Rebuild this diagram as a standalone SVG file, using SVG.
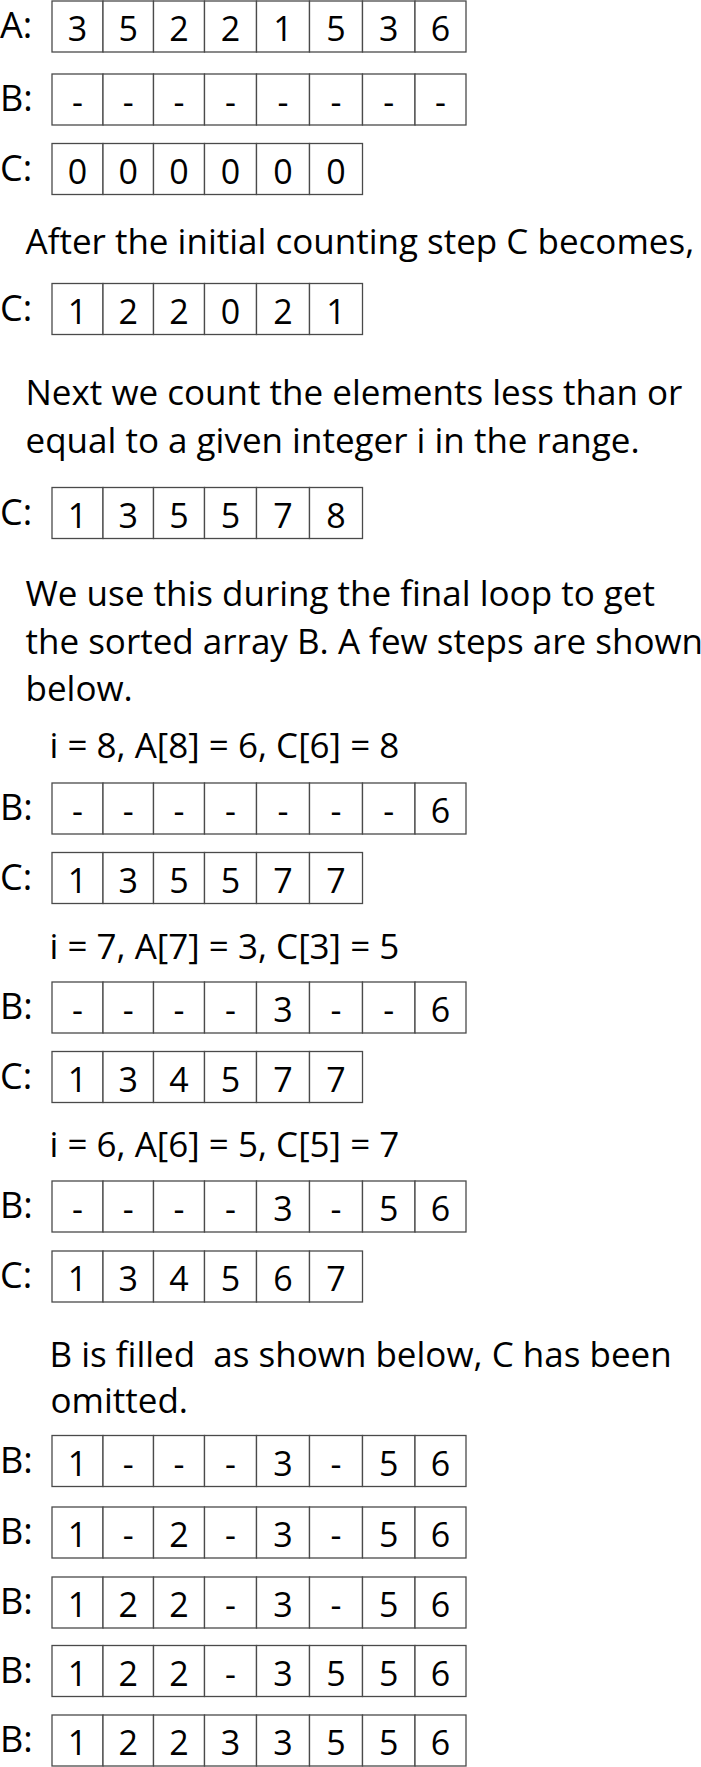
<svg xmlns="http://www.w3.org/2000/svg" width="701" height="1767" viewBox="0 0 701 1767">
<style>
  .cell{fill:#fff;stroke:#4a4a4a;stroke-width:1.3}
  .lbl{font-family:"Open Sans","Noto Sans",sans-serif;font-size:36px;fill:#000}
  .d{font-family:"Open Sans","Noto Sans",sans-serif;font-size:34px;fill:#000;text-anchor:middle}
  .t{font-family:"Open Sans","Noto Sans",sans-serif;font-size:35px;fill:#000}
</style>
<rect width="701" height="1767" fill="#fff"/>
<defs>
  <g id="cells8">
    <rect class="cell" x="52" y="0" width="51" height="51"/>
    <rect class="cell" x="103" y="0" width="50.5" height="51"/>
    <rect class="cell" x="153.5" y="0" width="51" height="51"/>
    <rect class="cell" x="204.5" y="0" width="52" height="51"/>
    <rect class="cell" x="256.5" y="0" width="53" height="51"/>
    <rect class="cell" x="309.5" y="0" width="53" height="51"/>
    <rect class="cell" x="362.5" y="0" width="52.5" height="51"/>
    <rect class="cell" x="415" y="0" width="51" height="51"/>
  </g>
  <g id="cells6">
    <rect class="cell" x="52" y="0" width="51" height="51"/>
    <rect class="cell" x="103" y="0" width="50.5" height="51"/>
    <rect class="cell" x="153.5" y="0" width="51" height="51"/>
    <rect class="cell" x="204.5" y="0" width="52" height="51"/>
    <rect class="cell" x="256.5" y="0" width="53" height="51"/>
    <rect class="cell" x="309.5" y="0" width="53" height="51"/>
  </g>
</defs>

<g id="row-A-initial" transform="translate(0,1)">
  <use href="#cells8"/>
  <text class="lbl" x="0" y="37">A:</text>
  <text class="d" x="77.5" y="40">3</text><text class="d" x="128.2" y="40">5</text><text class="d" x="179" y="40">2</text><text class="d" x="230.5" y="40">2</text><text class="d" x="283" y="40">1</text><text class="d" x="336" y="40">5</text><text class="d" x="388.7" y="40">3</text><text class="d" x="440.5" y="40">6</text>
</g>

<g id="row-B-initial" transform="translate(0,74)">
  <use href="#cells8"/>
  <text class="lbl" x="0" y="37">B:</text>
  <text class="d" x="77.5" y="40">-</text><text class="d" x="128.2" y="40">-</text><text class="d" x="179" y="40">-</text><text class="d" x="230.5" y="40">-</text><text class="d" x="283" y="40">-</text><text class="d" x="336" y="40">-</text><text class="d" x="388.7" y="40">-</text><text class="d" x="440.5" y="40">-</text>
</g>

<g id="row-C-initial" transform="translate(0,143.5)">
  <use href="#cells6"/>
  <text class="lbl" x="0" y="37">C:</text>
  <text class="d" x="77.5" y="40">0</text><text class="d" x="128.2" y="40">0</text><text class="d" x="179" y="40">0</text><text class="d" x="230.5" y="40">0</text><text class="d" x="283" y="40">0</text><text class="d" x="336" y="40">0</text>
</g>

<g id="text-after"><text class="t" x="25.5" y="253.5">After the initial counting step C becomes,</text></g>

<g id="row-C-counted" transform="translate(0,283.5)">
  <use href="#cells6"/>
  <text class="lbl" x="0" y="37">C:</text>
  <text class="d" x="77.5" y="40">1</text><text class="d" x="128.2" y="40">2</text><text class="d" x="179" y="40">2</text><text class="d" x="230.5" y="40">0</text><text class="d" x="283" y="40">2</text><text class="d" x="336" y="40">1</text>
</g>

<g id="text-next">
  <text class="t" x="25.5" y="405">Next we count the elements less than or</text>
  <text class="t" x="25.5" y="453">equal to a given integer i in the range.</text>
</g>

<g id="row-C-cumulative" transform="translate(0,487.5)">
  <use href="#cells6"/>
  <text class="lbl" x="0" y="37">C:</text>
  <text class="d" x="77.5" y="40">1</text><text class="d" x="128.2" y="40">3</text><text class="d" x="179" y="40">5</text><text class="d" x="230.5" y="40">5</text><text class="d" x="283" y="40">7</text><text class="d" x="336" y="40">8</text>
</g>

<g id="text-weuse">
  <text class="t" x="25.5" y="606">We use this during the final loop to get</text>
  <text class="t" x="25.5" y="653.5">the sorted array B. A few steps are shown</text>
  <text class="t" x="25.5" y="700.5">below.</text>
</g>

<g id="text-i8"><text class="t" x="49.5" y="758.3">i = 8, A[8] = 6, C[6] = 8</text></g>
<g id="row-B-i8" transform="translate(0,783)">
  <use href="#cells8"/>
  <text class="lbl" x="0" y="37">B:</text>
  <text class="d" x="77.5" y="40">-</text><text class="d" x="128.2" y="40">-</text><text class="d" x="179" y="40">-</text><text class="d" x="230.5" y="40">-</text><text class="d" x="283" y="40">-</text><text class="d" x="336" y="40">-</text><text class="d" x="388.7" y="40">-</text><text class="d" x="440.5" y="40">6</text>
</g>
<g id="row-C-i8" transform="translate(0,852.5)">
  <use href="#cells6"/>
  <text class="lbl" x="0" y="37">C:</text>
  <text class="d" x="77.5" y="40">1</text><text class="d" x="128.2" y="40">3</text><text class="d" x="179" y="40">5</text><text class="d" x="230.5" y="40">5</text><text class="d" x="283" y="40">7</text><text class="d" x="336" y="40">7</text>
</g>

<g id="text-i7"><text class="t" x="49.5" y="959.3">i = 7, A[7] = 3, C[3] = 5</text></g>
<g id="row-B-i7" transform="translate(0,982)">
  <use href="#cells8"/>
  <text class="lbl" x="0" y="37">B:</text>
  <text class="d" x="77.5" y="40">-</text><text class="d" x="128.2" y="40">-</text><text class="d" x="179" y="40">-</text><text class="d" x="230.5" y="40">-</text><text class="d" x="283" y="40">3</text><text class="d" x="336" y="40">-</text><text class="d" x="388.7" y="40">-</text><text class="d" x="440.5" y="40">6</text>
</g>
<g id="row-C-i7" transform="translate(0,1051.5)">
  <use href="#cells6"/>
  <text class="lbl" x="0" y="37">C:</text>
  <text class="d" x="77.5" y="40">1</text><text class="d" x="128.2" y="40">3</text><text class="d" x="179" y="40">4</text><text class="d" x="230.5" y="40">5</text><text class="d" x="283" y="40">7</text><text class="d" x="336" y="40">7</text>
</g>

<g id="text-i6"><text class="t" x="49.5" y="1156.7">i = 6, A[6] = 5, C[5] = 7</text></g>
<g id="row-B-i6" transform="translate(0,1181)">
  <use href="#cells8"/>
  <text class="lbl" x="0" y="37">B:</text>
  <text class="d" x="77.5" y="40">-</text><text class="d" x="128.2" y="40">-</text><text class="d" x="179" y="40">-</text><text class="d" x="230.5" y="40">-</text><text class="d" x="283" y="40">3</text><text class="d" x="336" y="40">-</text><text class="d" x="388.7" y="40">5</text><text class="d" x="440.5" y="40">6</text>
</g>
<g id="row-C-i6" transform="translate(0,1251)">
  <use href="#cells6"/>
  <text class="lbl" x="0" y="37">C:</text>
  <text class="d" x="77.5" y="40">1</text><text class="d" x="128.2" y="40">3</text><text class="d" x="179" y="40">4</text><text class="d" x="230.5" y="40">5</text><text class="d" x="283" y="40">6</text><text class="d" x="336" y="40">7</text>
</g>

<g id="text-filled">
  <text class="t" x="49.5" y="1366.7" xml:space="preserve">B is filled  as shown below, C has been</text>
  <text class="t" x="50.5" y="1412.5">omitted.</text>
</g>

<g id="row-B-fill1" transform="translate(0,1435.5)">
  <use href="#cells8"/>
  <text class="lbl" x="0" y="37">B:</text>
  <text class="d" x="77.5" y="40">1</text><text class="d" x="128.2" y="40">-</text><text class="d" x="179" y="40">-</text><text class="d" x="230.5" y="40">-</text><text class="d" x="283" y="40">3</text><text class="d" x="336" y="40">-</text><text class="d" x="388.7" y="40">5</text><text class="d" x="440.5" y="40">6</text>
</g>
<g id="row-B-fill2" transform="translate(0,1507)">
  <use href="#cells8"/>
  <text class="lbl" x="0" y="37">B:</text>
  <text class="d" x="77.5" y="40">1</text><text class="d" x="128.2" y="40">-</text><text class="d" x="179" y="40">2</text><text class="d" x="230.5" y="40">-</text><text class="d" x="283" y="40">3</text><text class="d" x="336" y="40">-</text><text class="d" x="388.7" y="40">5</text><text class="d" x="440.5" y="40">6</text>
</g>
<g id="row-B-fill3" transform="translate(0,1577)">
  <use href="#cells8"/>
  <text class="lbl" x="0" y="37">B:</text>
  <text class="d" x="77.5" y="40">1</text><text class="d" x="128.2" y="40">2</text><text class="d" x="179" y="40">2</text><text class="d" x="230.5" y="40">-</text><text class="d" x="283" y="40">3</text><text class="d" x="336" y="40">-</text><text class="d" x="388.7" y="40">5</text><text class="d" x="440.5" y="40">6</text>
</g>
<g id="row-B-fill4" transform="translate(0,1645.5)">
  <use href="#cells8"/>
  <text class="lbl" x="0" y="37">B:</text>
  <text class="d" x="77.5" y="40">1</text><text class="d" x="128.2" y="40">2</text><text class="d" x="179" y="40">2</text><text class="d" x="230.5" y="40">-</text><text class="d" x="283" y="40">3</text><text class="d" x="336" y="40">5</text><text class="d" x="388.7" y="40">5</text><text class="d" x="440.5" y="40">6</text>
</g>
<g id="row-B-fill5" transform="translate(0,1715)">
  <use href="#cells8"/>
  <text class="lbl" x="0" y="37">B:</text>
  <text class="d" x="77.5" y="40">1</text><text class="d" x="128.2" y="40">2</text><text class="d" x="179" y="40">2</text><text class="d" x="230.5" y="40">3</text><text class="d" x="283" y="40">3</text><text class="d" x="336" y="40">5</text><text class="d" x="388.7" y="40">5</text><text class="d" x="440.5" y="40">6</text>
</g>

<g id="connectors"/>
</svg>
